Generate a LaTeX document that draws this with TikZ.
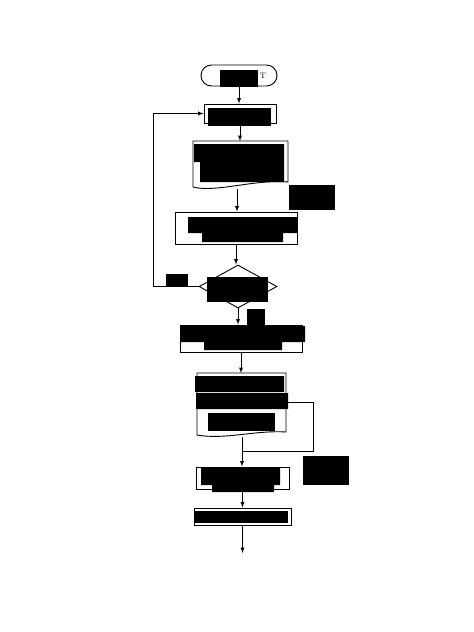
\documentclass[tikz,border=0pt]{standalone}
\usetikzlibrary{shapes.geometric}
\begin{document}
\begin{tikzpicture}[x=1pt,y=-1pt,line width=0.9pt,
  box/.style={draw,rectangle,inner sep=0pt},
  redact/.style={fill=black}]
            \fill [white](0,0) rectangle (474,632);
            \useasboundingbox (0,0) rectangle (474,632);
            % shapes of the chart
            \node [box,rounded corners=10.5pt,minimum width=76pt,minimum height=21pt](start) at (239,75.5){};
            \node [box,minimum width=72pt,minimum height=19pt](init) at (240,113.5){};
            \draw (193,141)--(288,141)--(288,182) .. controls (255,179) and (215,193) .. (193,187)--cycle;
            \coordinate (rdtop) at (237,141); \coordinate (rdbot) at (237,189);
            \node [box,minimum width=122pt,minimum height=32pt](calc) at (236,228){};
            \node [draw,diamond,inner sep=0pt,minimum width=78pt,minimum height=43pt](test) at (238,286.5){};
            \node [box,minimum width=122pt,minimum height=27pt](proc) at (241,338.5){};
            \draw (197,373)--(286,373)--(286,432) .. controls (255,430) and (225,440) .. (197,435)--cycle;
            \coordinate (mdtop) at (240,373); \coordinate (mdbot) at (242,436.5);
            \coordinate (mdside) at (288,402); \coordinate (join) at (242,451);
            \node [box,minimum width=93pt,minimum height=22pt](out) at (242.5,478){};
            \node [box,minimum width=97pt,minimum height=17pt](fin) at (242.5,516.5){};
            \coordinate (end) at (241,553);
            % connectors
            \draw [-latex](start.south)--(start.south |- init.north);
            \draw [-latex](init.south)--(init.south |- rdtop);
            \draw [-latex](rdbot)--(rdbot |- calc.north);
            \draw [-latex](calc.south)--(calc.south |- test.north);
            \draw [-latex](test.west)--++(-45,0) |- (init.west);
            \draw [-latex](test.south)--(test.south |- proc.north);
            \draw [-latex](proc.south)--(proc.south |- mdtop);
            \draw (mdside)--++(25,0) |- (join);
            \draw [-latex](mdbot)--(mdbot |- out.north);
            \draw [-latex](out.south)--(out.south |- fin.north);
            \draw [-latex](fin.south)--(fin.south |- end);
            % blacked out texts
            \fill [redact](220,70) rectangle (258,87);
            \draw (263,76) node {\fontsize{8}{9}\selectfont T};
            \fill [redact](208,108) rectangle (271,126);
            \fill [redact](194,144) rectangle (284,162) (200,162) rectangle (284,182);
            \fill [redact](289,185) rectangle (335,210);
            \fill [redact](188,217) rectangle (297,233) (202,233) rectangle (283,242);
            \fill [redact](207,277) rectangle (268,302);
            \fill [redact](166,274) rectangle (188,287);
            \fill [redact](247,309) rectangle (265,326);
            \fill [redact](180,326) rectangle (305,342) (204,342) rectangle (282,350);
            \fill [redact](195,376) rectangle (284,392) (196,393) rectangle (288,409);
            \fill [redact](208,413) rectangle (275,431);
            \fill [redact](303,456) rectangle (349,485);
            \fill [redact](201,467) rectangle (280,485) (212,485) rectangle (274,492);
            \fill [redact](195,511) rectangle (288,523);
        \end{tikzpicture}
\end{document}
